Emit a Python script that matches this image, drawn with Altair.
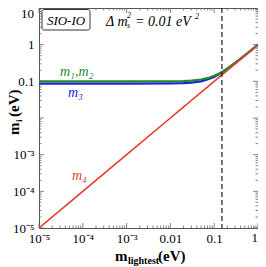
import altair as alt
import pandas as pd
import math

# ---- data ----
m_lightest = [1e-5, 1e-4, 1e-3, 0.01, 0.02, 0.03, 0.05, 0.07, 0.1, 0.13, 0.15, 0.2, 0.3, 0.5, 0.7, 1.0]
m12 = [0.1, 0.1, 0.1, 0.1005, 0.102, 0.1044, 0.112, 0.122, 0.141, 0.164, 0.18, 0.224, 0.316, 0.51, 0.707, 1.005]
m3 = [0.087, 0.087, 0.087, 0.0876, 0.089, 0.092, 0.1, 0.112, 0.132, 0.157, 0.173, 0.218, 0.312, 0.507, 0.705, 1.004]
m4 = [1e-5, 1e-4, 1e-3, 0.01, 0.02, 0.03, 0.05, 0.07, 0.1, 0.13, 0.15, 0.2, 0.3, 0.5, 0.7, 1.0]
dashed_x = [0.15]

x_tick_values = [1e-5, 1e-4, 1e-3, 0.01, 0.1]
x_tick_labels = ["10⁻⁵", "10⁻⁴", "10⁻³", "0.01", "0.1"]
x_right_label = "1"
y_tick_values = [1e-5, 1e-4, 1e-3, 0.01, 0.1, 1]
y_tick_labels = ["10⁻⁵", "10⁻⁴", "10⁻³", "", "0.1", "1"]
y_top_label = "10"

W, H = 219, 220
SERIF = "Liberation Serif"


def label_expr(values, labels):
    expr = "''"
    for v, l in zip(values, labels):
        e = round(math.log10(v))
        expr = f"round(log(datum.value)/LN10) == {e} ? '{l}' : ({expr})"
    return expr


df = pd.DataFrame({"x": m_lightest, "m12": m12, "m3": m3, "m4": m4})
long = df.melt("x", var_name="series", value_name="y")

xscale = alt.Scale(type="log", domain=[1e-5, 1], nice=False)
yscale = alt.Scale(type="log", domain=[1e-5, 10], nice=False)

xaxis = alt.Axis(values=x_tick_values, labelExpr=label_expr(x_tick_values, x_tick_labels),
                 title=None, domain=False, ticks=False, grid=False, labelFont=SERIF,
                 labelFontSize=13, labelColor="black", labelPadding=4, labelFlush=False)
yaxis = alt.Axis(values=y_tick_values, labelExpr=label_expr(y_tick_values, y_tick_labels),
                 title=None, domain=False, ticks=False, grid=False, labelFont=SERIF,
                 labelFontSize=13, labelColor="black", labelPadding=5, labelFlush=False)

colors = {"m3": "#2020e8", "m12": "#1e8c1e", "m4": "#e83a30"}
widths = {"m3": 2.2, "m12": 2.2, "m4": 1.6}

X = alt.X("x:Q", scale=xscale, axis=xaxis)
Y = alt.Y("y:Q", scale=yscale, axis=yaxis)

layers = []
for s in ["m3", "m12", "m4"]:
    d = long[long.series == s]
    layers.append(alt.Chart(d).mark_line(color=colors[s], strokeWidth=widths[s], clip=True).encode(x=X, y=Y))

# dashed vertical line
layers.append(alt.Chart(pd.DataFrame({"x": dashed_x})).mark_rule(color="#222", strokeDash=[5, 3], strokeWidth=1.2)
              .encode(x=X))

# inward ticks
major_x = [10.0 ** e for e in range(-5, 1)]
major_y = [10.0 ** e for e in range(-5, 2)]
minor = [k * 10.0 ** e for e in range(-5, 1) for k in range(2, 10)]
tick_col = "#666"
for vals, ln in [(major_x, 5), (minor, 2.5)]:
    dx = pd.DataFrame({"x": vals})
    layers.append(alt.Chart(dx).mark_rule(color=tick_col, strokeWidth=0.8)
                  .encode(x=X, y=alt.value(H), y2=alt.value(H - ln)))
    layers.append(alt.Chart(dx).mark_rule(color=tick_col, strokeWidth=0.8)
                  .encode(x=X, y=alt.value(0), y2=alt.value(ln)))
for vals, ln in [(major_y, 5), (minor, 2.5)]:
    dy = pd.DataFrame({"y": vals})
    layers.append(alt.Chart(dy).mark_rule(color=tick_col, strokeWidth=0.8)
                  .encode(y=Y, x=alt.value(0), x2=alt.value(ln)))
    layers.append(alt.Chart(dy).mark_rule(color=tick_col, strokeWidth=0.8)
                  .encode(y=Y, x=alt.value(W), x2=alt.value(W - ln)))


def txt(s, x, y, size=13, color="black", style="italic", weight="normal", angle=0, align="left", baseline="alphabetic"):
    return alt.Chart(pd.DataFrame({"t": [s]})).mark_text(
        font=SERIF, fontSize=size, fontStyle=style, fontWeight=weight, color=color,
        align=align, baseline=baseline, angle=angle).encode(
        text="t:N", x=alt.value(x), y=alt.value(y))


# edge labels, kept inside the canvas
layers.append(txt(y_top_label, -5, 0, size=13, style="normal", align="right", baseline="top"))
layers.append(txt(x_right_label, W, H + 4, size=13, style="normal", align="right", baseline="top"))

# SIO-IO box
layers.append(alt.Chart(pd.DataFrame({"a": [0]})).mark_rect(fill="white", stroke="#333", strokeWidth=1, cornerRadius=2)
              .encode(x=alt.value(3), x2=alt.value(51), y=alt.value(1.5), y2=alt.value(22)))
layers.append(txt("SIO-IO", 27, 17, size=13, align="center"))

# Delta m^2_s label
layers.append(txt("Δ m", 67, 18, size=14))
layers.append(txt("2", 88, 10, size=8))
layers.append(txt("s", 88, 20, size=8))
layers.append(txt("= 0.01  eV", 96, 18, size=14))
layers.append(txt("2", 156, 11, size=8))

# series labels
layers.append(txt("m₁,m₂", 21, 68, size=14, color="#1e8c1e"))
layers.append(txt("m₃", 29, 89, size=14, color="#2020e8"))
layers.append(txt("m₄", 33, 172, size=14, color="#e83a30"))

# axis titles
layers.append(txt("m", 76, 253, size=15, style="normal", weight="bold"))
layers.append(txt("lightest", 89, 256, size=10, style="normal", weight="bold"))
layers.append(txt("(eV)", 119, 253, size=15, style="normal", weight="bold"))

layers.append(txt("m", -20, 127, size=15, style="normal", weight="bold", angle=270))
layers.append(txt("i", -17, 114, size=9, style="normal", weight="bold", angle=270))
layers.append(txt("(eV)", -20, 109, size=15, style="normal", weight="bold", angle=270))

chart = alt.layer(*layers).properties(
    width=W, height=H,
    autosize=alt.AutoSizeParams(type="none"),
    padding={"left": 31, "top": 0, "right": 0, "bottom": 38},
    background="white",
).configure_view(stroke="#555", strokeWidth=1)

chart.save("out.html", embed_options={"renderer": "svg", "actions": False})
